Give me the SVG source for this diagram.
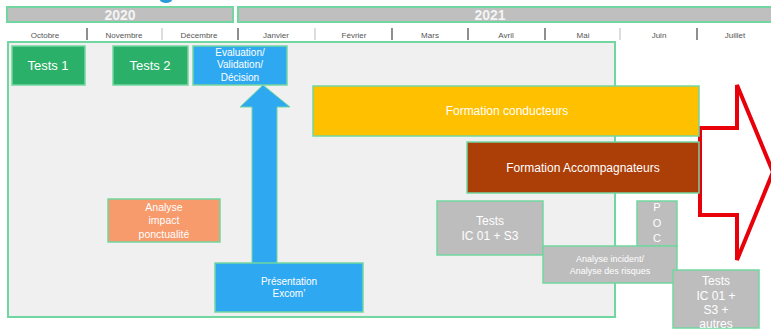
<svg xmlns="http://www.w3.org/2000/svg" width="771" height="331" viewBox="0 0 771 331">
<style>
text{font-family:"Liberation Sans",Arial,sans-serif;text-anchor:middle}
.yr{fill:#bfbfbf;stroke:#72d6a0;stroke-width:2}
.yt{fill:#f4f4f4;font-size:14px;font-weight:bold}
.mo{fill:#555;font-size:8px}
.sd{stroke:#444;stroke-width:1.2}
.sl{stroke:#bbb;stroke-width:1}
.bx{stroke:#72d6a0;stroke-width:1.5}
.w{fill:#fff}
.g{fill:#bdbdbd}
</style>
<rect width="771" height="331" fill="#fff"/>
<ellipse cx="166" cy="0" rx="6" ry="3" fill="#2a9ad8"/>
<g id="timeline">
<rect class="yr" x="7" y="7" width="226" height="15"/>
<text class="yt" x="120" y="20">2020</text>
<rect class="yr" x="238" y="7" width="540" height="15"/>
<text class="yt" x="490" y="20">2021</text>
<text class="mo" x="45" y="38">Octobre</text>
<text class="mo" x="124" y="38">Novembre</text>
<text class="mo" x="199" y="38">Décembre</text>
<text class="mo" x="276" y="38">Janvier</text>
<text class="mo" x="354" y="38">Février</text>
<text class="mo" x="430" y="38">Mars</text>
<text class="mo" x="506" y="38">Avril</text>
<text class="mo" x="583" y="38">Mai</text>
<text class="mo" x="659" y="38">Juin</text>
<text class="mo" x="735" y="38">Juillet</text>
<line class="sd" x1="87" y1="28" x2="87" y2="40"/>
<line class="sl" x1="162" y1="28" x2="162" y2="40"/>
<line class="sd" x1="238" y1="28" x2="238" y2="40"/>
<line class="sl" x1="315" y1="28" x2="315" y2="40"/>
<line class="sd" x1="392" y1="28" x2="392" y2="40"/>
<line class="sd" x1="468" y1="28" x2="468" y2="40"/>
<line class="sd" x1="545" y1="28" x2="545" y2="40"/>
<line class="sl" x1="620" y1="28" x2="620" y2="40"/>
<line class="sd" x1="697" y1="28" x2="697" y2="40"/>
</g>
<g id="panel">
<rect x="8" y="42" width="607" height="275" fill="#f0f0f0" stroke="#72d6a0" stroke-width="2"/>
</g>
<g id="connectors">
<path d="M700,128 H737 V85 L773,172 L737,260 V215 H700 Z" fill="#fff" stroke="#e8000b" stroke-width="4" stroke-linejoin="miter"/>
<path d="M252,264 V107 H240 L263,85 L290,107 H277 V264 Z" fill="#2fa8f2" stroke="#72d6a0" stroke-width="1"/>
</g>
<g id="tests1">
<rect class="bx" x="12" y="46" width="73" height="39" fill="#2bb06a"/>
<text class="w" x="48" y="70" font-size="13">Tests 1</text>
</g>
<g id="tests2">
<rect class="bx" x="113" y="46" width="75" height="39" fill="#2bb06a"/>
<text class="w" x="150" y="70" font-size="13">Tests 2</text>
</g>
<g id="evaluation">
<rect class="bx" x="193" y="46" width="94" height="39" fill="#2fa8f2"/>
<text class="w" x="240" y="56" font-size="10">Evaluation/</text>
<text class="w" x="240" y="68" font-size="10">Validation/</text>
<text class="w" x="240" y="81" font-size="10">Décision</text>
</g>
<g id="analyse-impact">
<rect class="bx" x="108" y="199" width="112" height="43" fill="#f79a6c"/>
<text class="w" x="164" y="211" font-size="10.5">Analyse</text>
<text class="w" x="164" y="224" font-size="10.5">impact</text>
<text class="w" x="164" y="238" font-size="10.5">ponctualité</text>
</g>
<g id="presentation">
<rect class="bx" x="215" y="263" width="148" height="49" fill="#2fa8f2"/>
<text class="w" x="289" y="285" font-size="10">Présentation</text>
<text class="w" x="289" y="297" font-size="10">Excom’</text>
</g>
<g id="formation-conducteurs">
<rect class="bx" x="313" y="86" width="386" height="50" fill="#ffc000"/>
<text class="w" x="507" y="115" font-size="12">Formation conducteurs</text>
</g>
<g id="formation-accompagnateurs">
<rect class="bx" x="467" y="142" width="232" height="51" fill="#ac3e08"/>
<text class="w" x="583" y="172" font-size="12">Formation Accompagnateurs</text>
</g>
<g id="tests-ic">
<rect class="bx g" x="437" y="201" width="106" height="54"/>
<text class="w" x="490" y="225" font-size="12">Tests</text>
<text class="w" x="490" y="240" font-size="12">IC 01 + S3</text>
</g>
<g id="poc">
<rect class="bx g" x="637" y="201" width="40" height="45"/>
<text class="w" x="657" y="211" font-size="11">P</text>
<text class="w" x="657" y="227" font-size="11">O</text>
<text class="w" x="657" y="242" font-size="11">C</text>
</g>
<g id="analyse-incident">
<rect class="bx g" x="543" y="246" width="134" height="37"/>
<text class="w" x="610" y="262" font-size="9">Analyse  incident/</text>
<text class="w" x="610" y="274" font-size="9">Analyse des risques</text>
</g>
<g id="tests-autres">
<rect class="bx g" x="673" y="270" width="86" height="58"/>
<text class="w" x="716" y="285" font-size="12">Tests</text>
<text class="w" x="716" y="300" font-size="12">IC 01 +</text>
<text class="w" x="716" y="314" font-size="12">S3  +</text>
<text class="w" x="716" y="328" font-size="12">autres</text>
</g>
</svg>
